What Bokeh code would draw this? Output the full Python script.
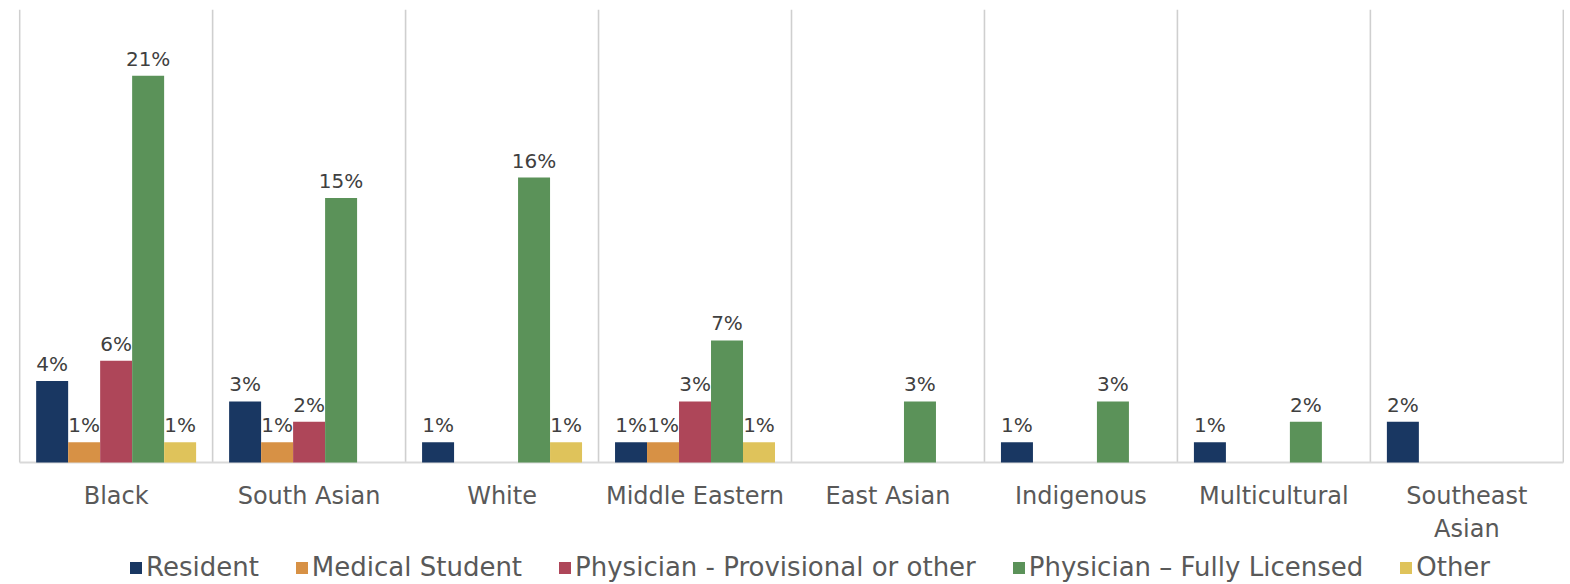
from bokeh.plotting import figure
from bokeh.models import ColumnDataSource, Legend, LegendItem
from bokeh.core.properties import value
from bokeh.transform import dodge
from bokeh.embed import file_html
from bokeh.resources import INLINE

categories = ["Black", "South Asian", "White", "Middle Eastern", "East Asian",
              "Indigenous", "Multicultural", "Southeast Asian"]
tick_labels = ["Black", "South Asian", "White", "Middle Eastern", "East Asian",
               "Indigenous", "Multicultural", "Southeast\nAsian"]
series_names = ["Resident", "Medical Student", "Physician - Provisional or other",
                "Physician \u2013 Fully Licensed", "Other"]
resident = [4, 3, 1, 1, 0, 1, 1, 2]
medical_student = [1, 1, 0, 1, 0, 0, 0, 0]
physician_provisional = [5, 2, 0, 3, 0, 0, 0, 0]
physician_full = [19, 13, 14, 6, 3, 3, 2, 0]
other = [1, 0, 1, 1, 0, 0, 0, 0]
colors = ["#193762", "#D79145", "#AE4659", "#5B9259", "#DFC35B"]

series_values = [resident, medical_student, physician_provisional, physician_full, other]
total = sum(sum(s) for s in series_values)

FONT = "DejaVu Sans"
BW = 0.1658
Y_TOP = 22.26
Y_BOTTOM = -5.995

n = len(categories)
p = figure(frame_width=1546, frame_height=575, x_range=(-0.506, n - 0.494),
           y_range=(Y_BOTTOM, Y_TOP), x_axis_type=None, y_axis_type=None,
           output_backend="svg", toolbar_location=None,
           min_border_left=18, min_border_right=0, min_border_top=9, min_border_bottom=0)
p.outline_line_color = None
p.grid.visible = False

# category separators (grid) and baseline
bounds = [i - 0.5 for i in range(n + 1)]
p.segment(x0=bounds, y0=[0] * len(bounds), x1=bounds, y1=[Y_TOP] * len(bounds),
          line_color="#cfcfcf", line_width=1.6)
p.segment(x0=[-0.5], y0=[0], x1=[n - 0.5], y1=[0], line_color="#d9d9d9", line_width=2)

# category labels
p.text(x=list(range(n)), y=[0] * n, text=tick_labels, text_align="center",
       text_baseline="top", y_offset=20, text_font=value(FONT), text_font_size="24px",
       text_color="#595959", text_line_height=1.15)

items = []
for k, (name, vals, col) in enumerate(zip(series_names, series_values, colors)):
    xs = [i for i, v in enumerate(vals) if v > 0]
    ys = [v for v in vals if v > 0]
    labels = [f"{round(v / total * 100)}%" for v in ys]
    src = ColumnDataSource(dict(x=xs, y=ys, label=labels))
    off = (k - 2) * BW
    r = p.vbar(x=dodge("x", off, range=p.x_range), top="y", bottom=0, width=BW, source=src,
               fill_color=col, line_color=None)
    p.text(x=dodge("x", off, range=p.x_range), y="y", text="label", source=src,
           text_align="center", text_baseline="alphabetic", y_offset=-17,
           text_font=value(FONT), text_font_size="20px", text_color="#404040")
    items.append(LegendItem(label=name, renderers=[r]))

legend = Legend(items=items, orientation="horizontal", location=(110, 2),
                label_text_font=FONT, label_text_font_size="26px",
                label_text_color="#595959", glyph_width=15, glyph_height=15,
                label_standoff=3, spacing=35, padding=0, margin=0,
                border_line_color=None, background_fill_color=None)
p.add_layout(legend, "center")

open("out.html", "w").write(file_html(p, INLINE))
